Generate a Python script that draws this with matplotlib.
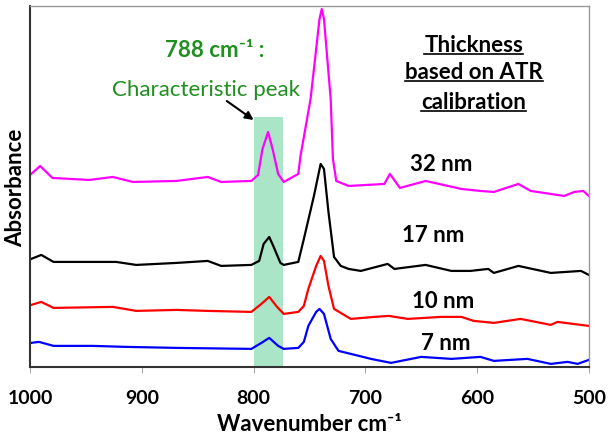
import numpy as np
import matplotlib
matplotlib.use("Agg")
import matplotlib.pyplot as plt
from matplotlib.lines import Line2D

plt.rcParams['font.family'] = ['Lato', 'DejaVu Sans']

# spectra (wavenumber cm-1, absorbance a.u.)
wn_32 = [999, 991, 980, 947, 926, 908, 869, 841, 829, 802, 796, 792, 787, 783, 778, 773,
         760, 758, 749, 741, 739, 737, 731, 729, 726, 715, 683, 678, 669, 646, 614, 597,
         585, 563, 552, 522, 513, 505, 500]
ab_32 = [0.193, 0.201, 0.189, 0.187, 0.190, 0.185, 0.186, 0.190, 0.185, 0.186, 0.192, 0.218,
         0.235, 0.218, 0.193, 0.185, 0.193, 0.211, 0.268, 0.348, 0.358, 0.348, 0.268, 0.208,
         0.186, 0.181, 0.183, 0.193, 0.179, 0.186, 0.178, 0.176, 0.175, 0.183, 0.176, 0.171,
         0.175, 0.176, 0.171]

wn_17 = [999, 990, 979, 923, 905, 869, 841, 829, 802, 795, 791, 786, 782, 776, 773, 760,
         755, 746, 740, 737, 733, 728, 722, 715, 704, 680, 674, 646, 623, 606, 590, 585,
         563, 534, 507, 500]
ab_17 = [0.108, 0.112, 0.105, 0.105, 0.102, 0.104, 0.106, 0.101, 0.102, 0.106, 0.123, 0.130,
         0.120, 0.104, 0.102, 0.105, 0.128, 0.171, 0.203, 0.198, 0.155, 0.110, 0.101, 0.098,
         0.096, 0.103, 0.098, 0.102, 0.096, 0.096, 0.098, 0.094, 0.101, 0.094, 0.096, 0.092]

wn_10 = [999, 990, 979, 926, 905, 869, 841, 802, 793, 786, 779, 773, 760, 755, 751, 744,
         740, 737, 733, 728, 713, 692, 679, 662, 632, 614, 603, 585, 561, 534, 528, 500]
ab_10 = [0.062, 0.065, 0.059, 0.060, 0.056, 0.057, 0.056, 0.055, 0.063, 0.070, 0.060, 0.053,
         0.055, 0.061, 0.078, 0.101, 0.111, 0.106, 0.081, 0.058, 0.048, 0.050, 0.051, 0.048,
         0.050, 0.050, 0.046, 0.044, 0.048, 0.042, 0.045, 0.041]

wn_7 = [999, 992, 979, 944, 914, 869, 802, 793, 786, 778, 773, 760, 755, 751, 744, 741,
        737, 731, 724, 713, 695, 677, 650, 623, 597, 585, 555, 534, 519, 510, 500]
ab_7 = [0.024, 0.025, 0.021, 0.021, 0.020, 0.019, 0.018, 0.024, 0.029, 0.021, 0.018, 0.019,
        0.025, 0.041, 0.055, 0.058, 0.053, 0.028, 0.016, 0.013, 0.008, 0.004, 0.010, 0.008,
        0.010, 0.006, 0.008, 0.003, 0.005, 0.003, 0.007]

series = [
    (wn_32, ab_32, '#ff00ff', '32 nm', (632, 0.203)),
    (wn_17, ab_17, 'black', '17 nm', (639, 0.132)),
    (wn_10, ab_10, 'red', '10 nm', (630, 0.066)),
    (wn_7, ab_7, 'blue', '7 nm', (628, 0.024)),
]

fig = plt.figure(figsize=(6.14, 4.39), dpi=100)
ax = fig.add_axes([0.049, 0.162, 0.910, 0.822])

# characteristic peak band
ax.fill_between([800, 774], 0, 0.250, color='#a9e5c6', lw=0, zorder=0)

for wn, ab, col, lab, pos in series:
    ax.plot(wn, ab, color=col, lw=1.6, zorder=2)
    ax.text(pos[0], pos[1], lab, ha='center', va='center', fontsize=16,
            fontweight='bold', color='black')

green = '#1f8f1f'
ax.text(835, 0.318, '788 cm\u207b\u00b9 :', ha='center', va='center',
        fontsize=16, fontweight='bold', color=green)
ax.text(843, 0.278, 'Characteristic peak', ha='center', va='center',
        fontsize=16, color=green)
ax.annotate('', xy=(800, 0.247), xytext=(824, 0.266),
            arrowprops=dict(arrowstyle='-|>', color='black', lw=1.5,
                            mutation_scale=12, shrinkA=0, shrinkB=0))

head_lines = ['Thickness', 'based on ATR', 'calibration']
head_y = [0.323, 0.295, 0.265]
head_txt = [ax.text(603, y, s, ha='center', va='center', fontsize=16,
                    fontweight='bold') for s, y in zip(head_lines, head_y)]

ax.set_xlim(1000, 500)
ax.set_ylim(0, 0.361)
ax.set_xticks([1000, 900, 800, 700, 600, 500])
ax.set_yticks([])
ax.tick_params(axis='x', direction='out', length=4, color='#aaaaaa',
               labelsize=14, pad=12)
for lbl in ax.get_xticklabels():
    lbl.set_fontweight('bold')
ax.set_xlabel('Wavenumber cm\u207b\u00b9', fontsize=16, fontweight='bold', labelpad=5)
ax.set_ylabel('Absorbance', fontsize=16, fontweight='bold', labelpad=3)

for s in ['left', 'bottom']:
    ax.spines[s].set_color('#333333')
    ax.spines[s].set_linewidth(1.5)
for s in ['top', 'right']:
    ax.spines[s].set_color('#999999')
    ax.spines[s].set_linewidth(1.0)

# underline the heading lines
fig.canvas.draw()
r = fig.canvas.get_renderer()
inv = fig.transFigure.inverted()
for t in head_txt:
    bb = t.get_window_extent(r)
    (x0, y0), (x1, _) = inv.transform([(bb.x0, bb.y0 + 1), (bb.x1, bb.y0 + 1)])
    fig.add_artist(Line2D([x0, x1], [y0, y0], color='black', lw=1.2,
                          transform=fig.transFigure))

fig.savefig('out.png', dpi=100)
